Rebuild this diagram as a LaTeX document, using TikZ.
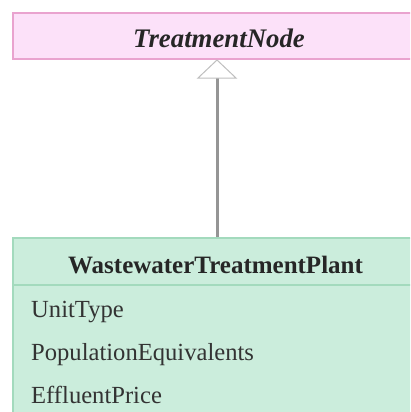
\documentclass[tikz,border=0pt]{standalone}
\usepackage{fontspec}
\setmainfont{Liberation Serif}
\definecolor{pinkfill}{HTML}{FCE1F9}
\definecolor{pinkline}{HTML}{E9A3CF}
\definecolor{mintfill}{HTML}{CBEDDC}
\definecolor{mintline}{HTML}{A3DABD}
\definecolor{arrowgray}{HTML}{959595}
\begin{document}
\begin{tikzpicture}[x=1pt,y=-1pt,
  classbox/.style={line width=1.2pt},
  attr/.style={anchor=base west,font=\fontsize{24.6}{24.6}\selectfont,text=black!80, inner sep=0pt}]
\useasboundingbox (0,0) rectangle (410,412);
\clip (0,0) rectangle (410,412);
% top class
\draw[classbox, draw=pinkline, fill=pinkfill] (13,13) rectangle (420,59);
\node[anchor=base, inner sep=0pt, font=\fontsize{26.8}{26.8}\selectfont\bfseries\itshape, text=black!85] (tn) at (219,48) {TreatmentNode};
\coordinate (tnb) at (217,60);
% bottom class
\draw[classbox, draw=mintline, fill=mintfill] (13,238) rectangle (420,420);
\draw[classbox, draw=mintline] (13,285) -- (420,285);
\node[anchor=base, inner sep=0pt, font=\fontsize{25}{25}\selectfont\bfseries, text=black!85] (wtp) at (215.5,273) {WastewaterTreatmentPlant};
\coordinate (wtpt) at (217,237);
\node[attr] (a1) at (31,317) {UnitType};
\node[attr] (a2) at (31,360) {PopulationEquivalents};
\node[attr] (a3) at (31,403) {EffluentPrice};
% generalization arrow
\draw[arrowgray, line width=3pt] (wtpt) -- (217,78);
\draw[draw=black!25, fill=white, line width=1pt, line join=miter] (tnb) -- (198,78) -- (236,78) -- cycle;
\end{tikzpicture}
\end{document}
